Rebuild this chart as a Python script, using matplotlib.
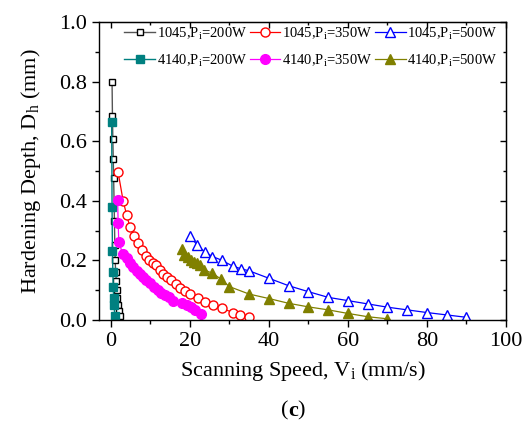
import matplotlib
matplotlib.use("Agg")
import matplotlib.pyplot as plt
from matplotlib.ticker import MultipleLocator, NullFormatter

plt.rcParams["font.family"] = "Liberation Serif"
plt.rcParams["mathtext.fontset"] = "custom"
plt.rcParams["mathtext.rm"] = "Liberation Serif"
plt.rcParams["mathtext.it"] = "Liberation Serif:italic"

# hardening depth (mm) vs scanning speed (mm/s)
v_1045_200 = [0.3, 0.4, 0.5, 0.6, 0.7, 0.9, 1.0, 1.1, 1.2, 1.4, 1.5, 1.6, 1.8, 2.0, 2.2]
d_1045_200 = [0.80, 0.685, 0.607, 0.54, 0.477, 0.333, 0.25, 0.20, 0.16, 0.13, 0.10, 0.075, 0.05, 0.03, 0.012]

v_4140_200 = [0.2, 0.3, 0.4, 0.5, 0.6, 0.7, 0.8, 1.0]
d_4140_200 = [0.665, 0.378, 0.232, 0.162, 0.112, 0.075, 0.05, 0.012]

v_1045_350 = [1.85, 3.1, 4.0, 4.8, 5.9, 6.8, 7.8, 8.8, 9.6, 10.6, 11.5, 12.4, 13.3, 14.2, 15.2,
              16.4, 17.6, 18.8, 20.0, 22.0, 23.8, 25.9, 28.0, 31.0, 32.8, 35.0]
d_1045_350 = [0.495, 0.40, 0.352, 0.313, 0.282, 0.257, 0.235, 0.215, 0.20, 0.19, 0.183, 0.168, 0.155, 0.145, 0.135,
              0.122, 0.108, 0.097, 0.087, 0.073, 0.061, 0.05, 0.039, 0.025, 0.017, 0.011]

v_4140_350 = [1.7, 1.85, 2.0, 3.0, 4.0, 4.8, 5.65, 6.5, 7.3, 8.2, 9.0, 9.9, 11.0, 12.0, 12.8,
              13.8, 14.7, 15.8, 18.0, 19.2, 20.3, 21.3, 22.8]
d_4140_350 = [0.403, 0.325, 0.263, 0.221, 0.207, 0.19, 0.177, 0.166, 0.154, 0.143, 0.134, 0.123, 0.112, 0.10, 0.092,
              0.084, 0.076, 0.065, 0.056, 0.05, 0.043, 0.034, 0.02]

v_1045_500 = [20.0, 21.8, 23.7, 25.7, 28.0, 30.8, 32.9, 35.0, 40.0, 45.0, 50.0, 55.0, 60.0, 65.0, 70.0, 75.0, 80.0, 85.0, 90.0]
d_1045_500 = [0.282, 0.252, 0.229, 0.213, 0.201, 0.181, 0.172, 0.165, 0.14, 0.115, 0.095, 0.076, 0.065, 0.054, 0.043, 0.034, 0.025, 0.017, 0.009]

v_4140_500 = [17.9, 18.5, 19.4, 20.2, 21.0, 21.8, 22.6, 23.6, 25.7, 27.9, 30.0, 35.0, 40.0, 45.0, 50.0, 55.0, 60.0, 65.0, 70.0]
d_4140_500 = [0.237, 0.218, 0.21, 0.203, 0.196, 0.19, 0.183, 0.168, 0.157, 0.137, 0.112, 0.087, 0.072, 0.056, 0.044, 0.034, 0.022, 0.011, 0.004]

fig = plt.figure(figsize=(5.25, 4.23), dpi=100)
ax = fig.add_axes([0.1886, 0.2435, 0.7752, 0.7045])

l1, = ax.plot(v_1045_200, d_1045_200, "-s", color="#555555", mec="black", mfc="white", ms=5, lw=1, label=r"1045,P$_\mathregular{i}$=200W")
l2, = ax.plot(v_1045_350, d_1045_350, "-o", color="red", mec="red", mfc="white", ms=6.5, lw=0.9, label=r"1045,P$_\mathregular{i}$=350W")
l3, = ax.plot(v_1045_500, d_1045_500, "-^", color="blue", mec="blue", mfc="white", ms=7, lw=0.9, label=r"1045,P$_\mathregular{i}$=500W")
l4, = ax.plot(v_4140_200, d_4140_200, "-s", color="#008080", ms=5.5, lw=1, label=r"4140,P$_\mathregular{i}$=200W")
l5, = ax.plot(v_4140_350, d_4140_350, "-o", color="magenta", ms=7, lw=0.9, label=r"4140,P$_\mathregular{i}$=350W")
l6, = ax.plot(v_4140_500, d_4140_500, "-^", color="#808000", ms=7, lw=0.9, label=r"4140,P$_\mathregular{i}$=500W")

ax.set_xlim(-3, 100)
ax.set_ylim(0, 1.0)
ax.xaxis.set_major_locator(MultipleLocator(20))
ax.xaxis.set_minor_locator(MultipleLocator(10))
ax.yaxis.set_major_locator(MultipleLocator(0.2))
ax.yaxis.set_minor_locator(MultipleLocator(0.1))
ax.yaxis.set_major_formatter(plt.FormatStrFormatter("%.1f"))
ax.tick_params(which="both", direction="out", labelsize=16, width=1)
ax.tick_params(which="major", length=5)
ax.tick_params(which="minor", length=3)
for s in ax.spines.values():
    s.set_linewidth(1)

# mirrored ticks on top and right point inward
top = ax.secondary_xaxis("top")
right = ax.secondary_yaxis("right")
for sec, axis in ((top, top.xaxis), (right, right.yaxis)):
    axis.set_major_locator(MultipleLocator(20 if sec is top else 0.2))
    axis.set_minor_locator(MultipleLocator(10 if sec is top else 0.1))
    axis.set_major_formatter(NullFormatter())
    sec.tick_params(which="both", direction="in", width=1)
    sec.tick_params(which="major", length=4)
    sec.tick_params(which="minor", length=2.5)

ax.set_xlabel(r"Scanning Speed, V$_\mathregular{i}$ (mm/s)", fontsize=16, labelpad=6)
ax.set_ylabel(r"Hardening Depth, D$_\mathregular{h}$ (mm)", fontsize=16, labelpad=12)

ax.legend(handles=[l1, l4, l2, l5, l3, l6], ncol=3, loc="center", frameon=False, fontsize=10.5,
          handlelength=2.1, handletextpad=0.1, columnspacing=0.2, labelspacing=0.75,
          borderpad=0, bbox_to_anchor=(311 / 525, 1 - 47 / 423), bbox_transform=fig.transFigure)

# panel tag
cy = (423 - 411) / 423
fig.text(0.549, cy, "(", fontsize=16, ha="right", va="center")
fig.text(0.549, cy, "c", fontsize=16, fontweight="bold", ha="left", va="center")
fig.text(0.549 + 0.017, cy, ")", fontsize=16, ha="left", va="center")

fig.savefig("out.png", dpi=100)
